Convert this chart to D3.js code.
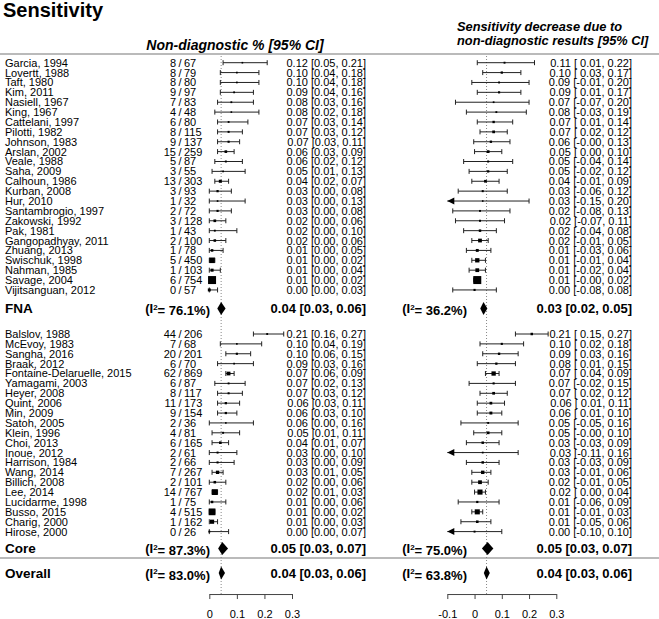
<!DOCTYPE html>
<html>
<head>
<meta charset="utf-8">
<script src="https://cdnjs.cloudflare.com/ajax/libs/d3/7.8.5/d3.min.js"></script>
<style>
body { margin: 0; background: #fff; }
svg text { font-family: "Liberation Sans", Arial, sans-serif; fill: #000; }
</style>
</head>
<body>
<div id="chart"></div>
<script>
// ---- data ----
var fnaNames = ["Garcia, 1994", "Lovertt, 1988", "Taft, 1980", "Kim, 2011", "Nasiell, 1967", "King, 1967",
	"Cattelani, 1997", "Pilotti, 1982", "Johnson, 1983", "Arslan, 2002", "Veale, 1988", "Saha, 2009",
	"Calhoun, 1986", "Kurban, 2008", "Hur, 2010", "Santambrogio, 1997", "Zakowski, 1992", "Pak, 1981",
	"Gangopadhyay, 2011", "Zhuang, 2013", "Swischuk, 1998", "Nahman, 1985", "Savage, 2004", "Vijitsanguan, 2012"];
var fnaEvents = [8, 8, 8, 9, 7, 4, 6, 8, 9, 15, 5, 3, 13, 3, 1, 2, 3, 1, 2, 1, 5, 1, 6, 0];
var fnaTotals = [67, 79, 80, 97, 83, 48, 80, 115, 137, 259, 87, 55, 303, 93, 32, 72, 128, 43, 100, 78, 450, 103, 754, 57];
var fnaProp = [0.12, 0.10, 0.10, 0.09, 0.08, 0.08, 0.07, 0.07, 0.07, 0.06, 0.06, 0.05, 0.04, 0.03, 0.03, 0.03, 0.02, 0.02, 0.02, 0.01, 0.01, 0.01, 0.01, 0.00];
var fnaPropLo = [0.05, 0.04, 0.04, 0.04, 0.03, 0.02, 0.03, 0.03, 0.03, 0.03, 0.02, 0.01, 0.02, 0.00, 0.00, 0.00, 0.00, 0.00, 0.00, 0.00, 0.00, 0.00, 0.00, 0.00];
var fnaPropHi = [0.21, 0.18, 0.18, 0.16, 0.16, 0.18, 0.14, 0.12, 0.11, 0.09, 0.12, 0.13, 0.07, 0.08, 0.13, 0.08, 0.06, 0.10, 0.06, 0.05, 0.02, 0.04, 0.02, 0.03];
var fnaDec = [0.11, 0.10, 0.09, 0.09, 0.07, 0.08, 0.07, 0.07, 0.06, 0.05, 0.05, 0.05, 0.04, 0.03, 0.03, 0.02, 0.02, 0.02, 0.02, 0.01, 0.01, 0.01, 0.01, 0.00];
var fnaDecLo = [0.01, 0.03, -0.01, 0.01, -0.07, -0.03, 0.01, 0.02, -0.003, 0.00, -0.04, -0.02, -0.01, -0.06, -0.15, -0.08, -0.07, -0.04, -0.01, -0.03, -0.01, -0.02, -0.003, -0.08];
var fnaDecHi = [0.22, 0.17, 0.20, 0.17, 0.20, 0.19, 0.14, 0.12, 0.13, 0.10, 0.14, 0.12, 0.09, 0.12, 0.20, 0.13, 0.11, 0.08, 0.05, 0.06, 0.04, 0.04, 0.02, 0.08];

var coreNames = ["Balslov, 1988", "McEvoy, 1983", "Sangha, 2016", "Braak, 2012", "Fontaine-Delaruelle, 2015",
	"Yamagami, 2003", "Heyer, 2008", "Quint, 2006", "Min, 2009", "Satoh, 2005", "Klein, 1996", "Choi, 2013",
	"Inoue, 2012", "Harrison, 1984", "Wang, 2014", "Billich, 2008", "Lee, 2014", "Lucidarme, 1998",
	"Busso, 2015", "Charig, 2000", "Hirose, 2000"];
var coreEvents = [44, 7, 20, 6, 62, 6, 8, 11, 9, 2, 4, 6, 2, 2, 7, 2, 14, 1, 4, 1, 0];
var coreTotals = [206, 68, 201, 70, 869, 87, 117, 173, 154, 36, 81, 165, 61, 66, 267, 101, 767, 75, 515, 162, 26];
var coreProp = [0.21, 0.10, 0.10, 0.09, 0.07, 0.07, 0.07, 0.06, 0.06, 0.06, 0.05, 0.04, 0.03, 0.03, 0.03, 0.02, 0.02, 0.01, 0.01, 0.01, 0.00];
var corePropLo = [0.16, 0.04, 0.06, 0.03, 0.06, 0.02, 0.03, 0.03, 0.03, 0.00, 0.01, 0.01, 0.00, 0.00, 0.01, 0.00, 0.01, 0.00, 0.00, 0.00, 0.00];
var corePropHi = [0.27, 0.19, 0.15, 0.16, 0.09, 0.13, 0.12, 0.11, 0.10, 0.16, 0.11, 0.07, 0.10, 0.09, 0.05, 0.06, 0.03, 0.06, 0.02, 0.03, 0.07];
var coreDec = [0.21, 0.10, 0.09, 0.08, 0.07, 0.07, 0.07, 0.06, 0.06, 0.05, 0.05, 0.03, 0.03, 0.03, 0.03, 0.02, 0.02, 0.01, 0.01, 0.01, 0.00];
var coreDecLo = [0.15, 0.02, 0.03, 0.01, 0.04, -0.02, 0.02, 0.01, 0.01, -0.05, -0.003, -0.03, -0.11, -0.03, -0.01, -0.01, 0.00, -0.06, -0.01, -0.05, -0.102];
var coreDecHi = [0.27, 0.18, 0.16, 0.15, 0.09, 0.15, 0.12, 0.11, 0.10, 0.16, 0.10, 0.09, 0.16, 0.09, 0.06, 0.05, 0.04, 0.09, 0.03, 0.06, 0.10];

// pooled estimates: FNA, Core, Overall
var summaryNames = ["FNA", "Core", "Overall"];
var propI2 = [76.1, 87.3, 83.0];
var propEst = [0.043, 0.047, 0.043];
var propLo = [0.029, 0.032, 0.034];
var propHi = [0.059, 0.068, 0.057];
var decI2 = [36.2, 75.0, 63.8];
var decEst = [0.033, 0.048, 0.044];
var decLo = [0.021, 0.027, 0.034];
var decHi = [0.047, 0.069, 0.056];

var leftTicks = [0, 0.1, 0.2, 0.3];
var rightTicks = [-0.1, 0, 0.1, 0.2, 0.3];

// ---- layout ----
var W = 659, H = 619;
var svg = d3.select("#chart").append("svg")
	.attr("width", W)
	.attr("height", H);

var xL = d3.scaleLinear().domain([0, 0.3]).range([209.3, 292]);
var xR = d3.scaleLinear().domain([-0.1, 0.3]).range([447.3, 556.3]);
// rows are spaced evenly, summaries sit between the groups
var yRow = d3.scaleLinear().domain([0, 1]).range([62.7, 72.58]);
var coreStart = 27.46;
var summaryRows = [24.88, 49.17, 51.65];
var headerLineRow = -0.88, sepRow = 50.13, axisRow = 53.78;

// collect studies
var studies = [];
fnaNames.forEach(function(n, i) {
	studies.push({name: n, ev: fnaEvents[i], tot: fnaTotals[i], p: fnaProp[i], plo: fnaPropLo[i], phi: fnaPropHi[i],
		d: fnaDec[i], dlo: fnaDecLo[i], dhi: fnaDecHi[i], row: i});
});
coreNames.forEach(function(n, i) {
	studies.push({name: n, ev: coreEvents[i], tot: coreTotals[i], p: coreProp[i], plo: corePropLo[i], phi: corePropHi[i],
		d: coreDec[i], dlo: coreDecLo[i], dhi: coreDecHi[i], row: coreStart + i});
});

// weights (1/se) -> square size, like metafor
studies.forEach(function(s) {
	var pc = (s.ev + 0.5) / (s.tot + 1);
	s.wL = 1 / Math.sqrt(pc * (1 - pc) / s.tot);
	s.wR = 3.92 / (s.dhi - s.dlo);
});
var sizeL = d3.scaleLinear().domain(d3.extent(studies, function(s) { return s.wL; })).range([1.6, 8]);
var sizeR = d3.scaleLinear().domain(d3.extent(studies, function(s) { return s.wR; })).range([1.6, 8]);

var lineCol = "#222";

// title + headers
svg.append("text").attr("x", 3).attr("y", 17)
	.style("font-size", "20px").style("font-weight", "bold")
	.text("Sensitivity");

svg.append("text").attr("x", 235).attr("y", 50)
	.attr("text-anchor", "middle")
	.style("font-size", "14px").style("font-weight", "bold").style("font-style", "italic")
	.text("Non-diagnostic % [95% CI]");

svg.selectAll("text.rhead")
	.data(["Sensitivity decrease due to", "non-diagnostic results [95% CI]"])
	.enter().append("text")
	.attr("class", "rhead")
	.attr("x", 457)
	.attr("y", function(d, i) { return 31 + i * 14; })
	.style("font-size", "12.8px").style("font-weight", "bold").style("font-style", "italic")
	.text(function(d) { return d; });

// horizontal rules
[headerLineRow, sepRow].forEach(function(r) {
	svg.append("line")
		.attr("x1", 0).attr("x2", W)
		.attr("y1", yRow(r)).attr("y2", yRow(r))
		.attr("stroke", "#777").attr("stroke-width", 1.2);
});

// reference dotted lines at overall estimate
svg.append("line")
	.attr("x1", xL(propEst[2])).attr("x2", xL(propEst[2]))
	.attr("y1", yRow(headerLineRow) + 2).attr("y2", yRow(axisRow))
	.attr("stroke", "#888").attr("stroke-dasharray", "1,2");
svg.append("line")
	.attr("x1", xR(decEst[2])).attr("x2", xR(decEst[2]))
	.attr("y1", yRow(headerLineRow) + 2).attr("y2", yRow(axisRow))
	.attr("stroke", "#888").attr("stroke-dasharray", "1,2");

// study rows
var rows = svg.append("g").selectAll("g")
	.data(studies)
	.enter().append("g")
	.attr("transform", function(d) { return "translate(0," + yRow(d.row) + ")"; });

rows.append("text").attr("x", 5).attr("dy", "0.36em")
	.style("font-size", "11px")
	.text(function(d) { return d.name; });

rows.append("text").attr("x", 176).attr("dy", "0.36em")
	.attr("text-anchor", "end").style("font-size", "11px")
	.text(function(d) { return d.ev; });
rows.append("text").attr("x", 180).attr("dy", "0.36em")
	.attr("text-anchor", "middle").style("font-size", "11px")
	.text("/");
rows.append("text").attr("x", 184).attr("dy", "0.36em")
	.style("font-size", "11px")
	.text(function(d) { return d.tot; });

// left panel CI
rows.append("line")
	.attr("x1", function(d) { return xL(d.plo); })
	.attr("x2", function(d) { return xL(d.phi); })
	.attr("stroke", lineCol);
rows.append("line")
	.attr("x1", function(d) { return xL(d.plo); })
	.attr("x2", function(d) { return xL(d.plo); })
	.attr("y1", -2.5).attr("y2", 2.5).attr("stroke", lineCol);
rows.append("line")
	.attr("x1", function(d) { return xL(d.phi); })
	.attr("x2", function(d) { return xL(d.phi); })
	.attr("y1", -2.5).attr("y2", 2.5).attr("stroke", lineCol);
rows.append("rect")
	.attr("x", function(d) { return xL(d.p) - sizeL(d.wL) / 2; })
	.attr("y", function(d) { return -sizeL(d.wL) / 2; })
	.attr("width", function(d) { return sizeL(d.wL); })
	.attr("height", function(d) { return sizeL(d.wL); })
	.attr("fill", "#000");
rows.append("text").attr("x", 366).attr("dy", "0.36em")
	.attr("text-anchor", "end").style("font-size", "11px")
	.text(function(d) { return d.p.toFixed(2) + " [" + d.plo.toFixed(2) + ", " + d.phi.toFixed(2) + "]"; });

// right panel CI (clipped at -0.1 with an arrow)
var rmin = xR.domain()[0];
rows.append("line")
	.attr("x1", function(d) { return xR(Math.max(d.dlo, rmin)); })
	.attr("x2", function(d) { return xR(d.dhi); })
	.attr("stroke", lineCol);
rows.filter(function(d) { return d.dlo > rmin; }).append("line")
	.attr("x1", function(d) { return xR(d.dlo); })
	.attr("x2", function(d) { return xR(d.dlo); })
	.attr("y1", -2.5).attr("y2", 2.5).attr("stroke", lineCol);
rows.filter(function(d) { return d.dlo <= rmin; }).append("path")
	.attr("d", function(d) {
		var x0 = xR(rmin);
		return "M" + x0 + ",0L" + (x0 + 7) + ",-3.5L" + (x0 + 7) + ",3.5Z";
	})
	.attr("fill", "#000");
rows.append("line")
	.attr("x1", function(d) { return xR(d.dhi); })
	.attr("x2", function(d) { return xR(d.dhi); })
	.attr("y1", -2.5).attr("y2", 2.5).attr("stroke", lineCol);
rows.append("rect")
	.attr("x", function(d) { return xR(d.d) - sizeR(d.wR) / 2; })
	.attr("y", function(d) { return -sizeR(d.wR) / 2; })
	.attr("width", function(d) { return sizeR(d.wR); })
	.attr("height", function(d) { return sizeR(d.wR); })
	.attr("fill", "#000");
rows.append("text").attr("x", 632).attr("dy", "0.36em")
	.attr("text-anchor", "end").style("font-size", "11px")
	.text(function(d) {
		return d.d.toFixed(2) + " [" + (d.dlo >= 0 ? " " : "") + d.dlo.toFixed(2) + ", " + d.dhi.toFixed(2) + "]";
	});

// summaries
var f1 = d3.format(".1f");
var sums = summaryNames.map(function(n, i) {
	return {name: n, row: summaryRows[i], i2L: propI2[i], eL: propEst[i], loL: propLo[i], hiL: propHi[i],
		i2R: decI2[i], eR: decEst[i], loR: decLo[i], hiR: decHi[i]};
});
var srows = svg.append("g").selectAll("g")
	.data(sums)
	.enter().append("g")
	.attr("transform", function(d) { return "translate(0," + yRow(d.row) + ")"; });

srows.append("text").attr("x", 5).attr("dy", "0.36em")
	.style("font-size", "13.5px").style("font-weight", "bold")
	.text(function(d) { return d.name; });

function i2Text(sel, x, key) {
	var t = sel.append("text").attr("x", x).attr("dy", "0.36em")
		.attr("text-anchor", "end")
		.style("font-size", "13px").style("font-weight", "bold");
	t.append("tspan").text("(I");
	t.append("tspan").attr("dy", "-0.45em").style("font-size", "8px").text("2");
	t.append("tspan").attr("dy", "0.45em").text(function(d) { return "= " + f1(d[key]) + "%)"; });
}
i2Text(srows, 210, "i2L");
i2Text(srows, 467, "i2R");

srows.append("path")
	.attr("d", function(d) {
		return "M" + xL(d.loL) + ",0L" + xL(d.eL) + ",-6.5L" + xL(d.hiL) + ",0L" + xL(d.eL) + ",6.5Z";
	})
	.attr("fill", "#000");
srows.append("path")
	.attr("d", function(d) {
		return "M" + xR(d.loR) + ",0L" + xR(d.eR) + ",-6.5L" + xR(d.hiR) + ",0L" + xR(d.eR) + ",6.5Z";
	})
	.attr("fill", "#000");

srows.append("text").attr("x", 366).attr("dy", "0.36em")
	.attr("text-anchor", "end").style("font-size", "13px").style("font-weight", "bold")
	.text(function(d) { return d.eL.toFixed(2) + " [" + d.loL.toFixed(2) + ", " + d.hiL.toFixed(2) + "]"; });
srows.append("text").attr("x", 632).attr("dy", "0.36em")
	.attr("text-anchor", "end").style("font-size", "13px").style("font-weight", "bold")
	.text(function(d) { return d.eR.toFixed(2) + " [" + d.loR.toFixed(2) + ", " + d.hiR.toFixed(2) + "]"; });

// axes
function drawAxis(scale, ticks) {
	var g = svg.append("g")
		.attr("transform", "translate(0," + yRow(axisRow) + ")")
		.call(d3.axisBottom(scale).tickValues(ticks).tickSize(5).tickSizeOuter(0).tickPadding(11)
			.tickFormat(function(d) { return String(d); }));
	g.selectAll("path, line").attr("stroke", "#444");
	g.selectAll("text").style("font-size", "11px").attr("fill", "#000")
		.style("font-family", "'Liberation Sans', Arial, sans-serif");
}
drawAxis(xL, leftTicks);
drawAxis(xR, rightTicks);
</script>
</body>
</html>
